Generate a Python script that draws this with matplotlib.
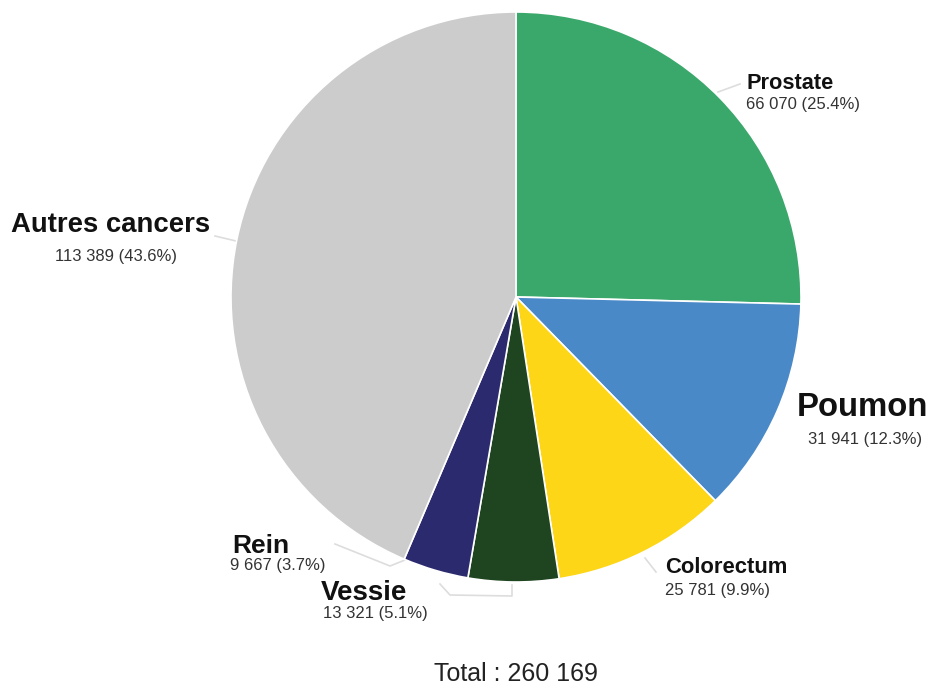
import matplotlib
matplotlib.use("Agg")
import matplotlib.pyplot as plt

labels = ["Prostate", "Poumon", "Colorectum", "Vessie", "Rein", "Autres cancers"]
values = [66070, 31941, 25781, 13321, 9667, 113389]
value_texts = ["66 070 (25.4%)", "31 941 (12.3%)", "25 781 (9.9%)",
               "13 321 (5.1%)", "9 667 (3.7%)", "113 389 (43.6%)"]
colors = ["#3aa86b", "#4a89c8", "#fcd617", "#1f4420", "#2c2a6f", "#cccccc"]
total_text = "Total : 260 169"

plt.rcParams['font.family'] = ['Liberation Sans', 'DejaVu Sans']

W, H = 932, 691
fig = plt.figure(figsize=(W / 100, H / 100), dpi=100)
ax = fig.add_axes([0, 0, 1, 1])

def Y(y):
    return H - y

cx, cy, r = 516, 297, 285
ax.pie(values, colors=colors, startangle=90, counterclock=False,
       center=(cx, Y(cy)), radius=r, frame=True,
       wedgeprops=dict(edgecolor='white', linewidth=1.2))
ax.set_xlim(0, W)
ax.set_ylim(0, H)
ax.axis('off')

# label specs: (name baseline pos, name size, name ha, value baseline pos, value ha)
specs = [
    ((746, 89), 15.7, 'left', (746, 109), 'left'),
    ((862, 416), 23.7, 'center', (865, 444), 'center'),
    ((665, 573), 15.8, 'left', (665, 595), 'left'),
    ((321, 600), 20, 'left', (323, 618), 'left'),
    ((232, 553), 19, 'left', (230, 570), 'left'),
    ((111, 232), 19.8, 'center', (116, 261), 'center'),
]
for (npos, nsz, nha, vpos, vha), lab, vt in zip(specs, labels, value_texts):
    ax.text(npos[0], Y(npos[1]), lab, fontsize=nsz, fontweight='bold',
            ha=nha, va='baseline', color='#111111')
    ax.text(vpos[0], Y(vpos[1]), vt, fontsize=12, ha=vha, va='baseline',
            color='#333333')

# leader lines
lc = '#dddddd'
leaders = [
    [(718, 92), (740, 84)],
    [(645, 558), (656, 572)],
    [(440, 584), (450, 595), (512, 596), (512, 585)],
    [(335, 544), (390, 566), (405, 560)],
    [(215, 236), (236, 241)],
]
for pts in leaders:
    ax.plot([p[0] for p in pts], [Y(p[1]) for p in pts], color=lc, lw=1.2,
            zorder=0)

ax.text(516, Y(674), total_text, fontsize=18, ha='center', va='center',
        color='#222222')

fig.savefig("out.png", dpi=100)
